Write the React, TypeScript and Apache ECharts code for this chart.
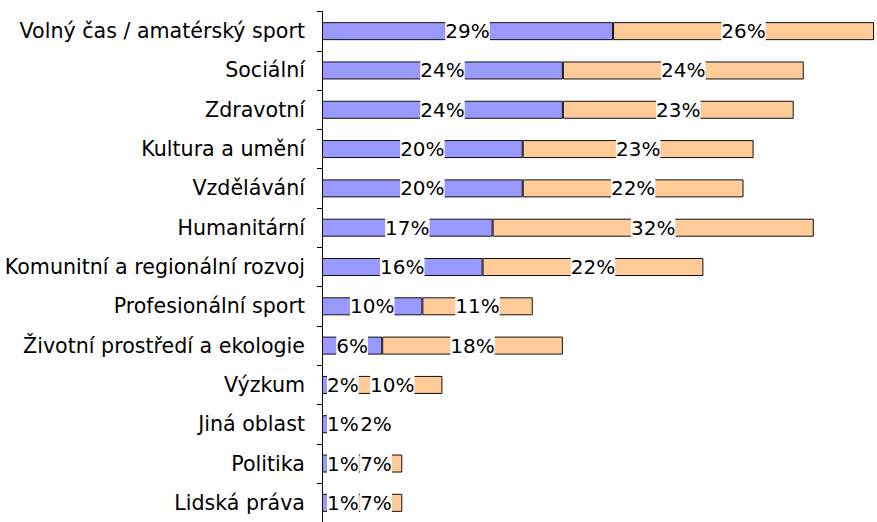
import React, { useEffect, useRef } from "react";
import * as echarts from "echarts";

const categories = [
  "Volný čas / amatérský sport",
  "Sociální",
  "Zdravotní",
  "Kultura a umění",
  "Vzdělávání",
  "Humanitární",
  "Komunitní a regionální rozvoj",
  "Profesionální sport",
  "Životní prostředí a ekologie",
  "Výzkum",
  "Jiná oblast",
  "Politika",
  "Lidská práva",
];
const blueValues = [29, 24, 24, 20, 20, 17, 16, 10, 6, 2, 1, 1, 1];
const orangeValues = [26, 24, 23, 23, 22, 32, 22, 11, 18, 10, 2, 7, 7];

const FONT = "'DejaVu Sans', Verdana, sans-serif";

export default function App() {
  const ref = useRef<HTMLDivElement>(null);
  useEffect(() => {
    if (!ref.current) return;
    const chart = echarts.init(ref.current, null, { renderer: "svg" });
    const label = {
      show: true,
      position: "inside",
      formatter: "{c}%",
      color: "#000",
      fontFamily: FONT,
      fontSize: 20,
      backgroundColor: "#fff",
      padding: [0, 0],
    };
    // small blue bars: label starts just right of the bar's left edge
    const blueData = blueValues.map((v) =>
      v <= 2 ? { value: v, label: { position: "insideLeft", distance: 5 } } : v
    );
    // orange labels in the rows with tiny blue bars are pushed right of the blue label
    const orangeData = orangeValues.map((v, i) => {
      const b = blueValues[i];
      if (b <= 1) {
        const barCenter = 322 + (b + v / 2) * (552 / 55);
        const target = 376;
        return { value: v, label: { offset: [target - barCenter, 0] } };
      }
      return v;
    });
    chart.setOption({
      animation: false,
      backgroundColor: "#fff",
      grid: { left: 322, top: 11.5, width: 552, height: 511 },
      xAxis: {
        type: "value",
        min: 0,
        max: 55,
        show: false,
      },
      yAxis: {
        type: "category",
        inverse: true,
        data: categories,
        axisLine: { show: true, lineStyle: { color: "#000", width: 1 } },
        axisTick: { show: true, length: 5, lineStyle: { color: "#000" } },
        axisLabel: {
          color: "#000",
          fontFamily: FONT,
          fontSize: 20.6,
          margin: 17,
        },
        splitLine: { show: false },
      },
      series: [
        {
          type: "bar",
          stack: "total",
          data: blueData,
          barWidth: 18,
          itemStyle: { color: "#9999FF", borderColor: "#111", borderWidth: 1 },
          label,
        },
        {
          type: "bar",
          stack: "total",
          data: orangeData,
          barWidth: 18,
          itemStyle: { color: "#FFCC99", borderColor: "#111", borderWidth: 1 },
          label,
        },
      ],
    });
    return () => chart.dispose();
  }, []);
  return (
    <div
      ref={ref}
      style={{ position: "absolute", left: 0, top: 0, width: 877, height: 523 }}
    />
  );
}
